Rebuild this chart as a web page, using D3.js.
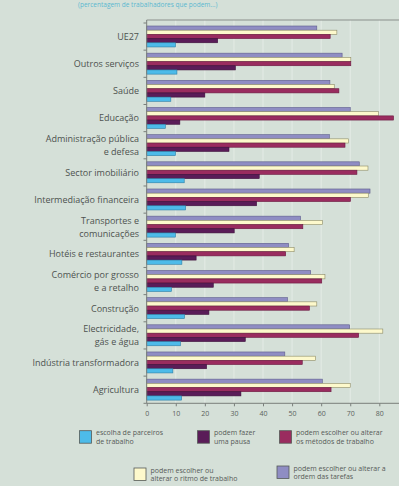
<!DOCTYPE html>
<html><head><meta charset="utf-8">
<script src="https://cdn.jsdelivr.net/npm/d3@7"></script>
<style>
html,body{margin:0;padding:0;background:#d5e0d8;}
svg{display:block;}
text{font-family:"Open Sans",sans-serif;}
</style></head>
<body>
<svg id="c" width="399" height="486"></svg>
<script>
const categories = ["UE27","Outros serviços","Saúde","Educação","Administração pública|e defesa","Sector imobiliário","Intermediação financeira","Transportes e|comunicações","Hotéis e restaurantes","Comércio por grosso|e a retalho","Construção","Electricidade,|gás e água","Indústria transformadora","Agricultura"];
const seriesNames = ["ordem","ritmo","metodos","pausa","parceiros"];
const ordem     = [58.5,67.2,63.0,70.0,62.8,73.1,76.8,52.9,48.8,56.4,48.4,69.8,47.5,60.4];
const ritmo     = [65.4,70.2,64.5,79.7,69.4,76.1,76.2,60.4,50.7,61.3,58.5,81.2,58.1,70.0];
const metodos   = [63.1,70.2,66.1,84.9,68.2,72.3,70.1,53.7,47.8,60.2,56.0,72.9,53.5,63.4];
const pausa     = [24.4,30.5,20.0,11.4,28.3,38.7,37.8,30.1,17.0,22.9,21.4,33.9,20.6,32.4];
const parceiros = [9.9,10.4,8.3,6.4,9.9,12.9,13.4,9.9,12.1,8.5,13.0,11.6,9.0,12.0];
const xTicks = [0,10,20,30,40,50,60,70,80];
const legendLabels = {
  parceiros:["escolha de parceiros","de trabalho"],
  pausa:["podem fazer","uma pausa"],
  metodos:["podem escolher ou alterar","os métodos de trabalho"],
  ritmo:["podem escolher ou","alterar o ritmo de trabalho"],
  ordem:["podem escolher ou alterar a","ordem das tarefas"]
};
const values = {ordem, ritmo, metodos, pausa, parceiros};
const fills = {ordem:"#8f8dc3", ritmo:"#fdf9cc", metodos:"#9a2c5f", pausa:"#5a1c58", parceiros:"#4dbbe9"};
const strokes = {ordem:"#5d5b8c", ritmo:"#8c8a66", metodos:"#6a1a40", pausa:"#3c0e3a", parceiros:"#2c7ea6"};

const svg = d3.select("#c");
const x = d3.scaleLinear().domain([0,90]).range([146.7, 408.4]);
const y = d3.scaleBand().domain(categories).range([23,403.3]).paddingInner(0).paddingOuter(0);
const yi = d3.scaleBand().domain(seriesNames).range([3, y.bandwidth()-3.2]).padding(0);

// title fragment
svg.append("text").attr("x",78).attr("y",7).attr("font-size",6.5).attr("fill","#5bb8d0").text("(percentagem de trabalhadores que podem...)");

// gridlines
svg.append("g").selectAll("line").data(xTicks.filter(d=>d>0).concat([90])).join("line")
  .attr("x1",d=>x(d)).attr("x2",d=>x(d)).attr("y1",20).attr("y2",403.3)
  .attr("stroke","#e4ebe6").attr("stroke-width",1);

// frame top
svg.append("line").attr("x1",146.7).attr("x2",399).attr("y1",20).attr("y2",20).attr("stroke","#8a8f8b").attr("stroke-width",1);

// bars
const g = svg.append("g");
categories.forEach((c,i)=>{
  seriesNames.forEach(s=>{
    g.append("rect")
      .attr("x",x(0)).attr("y",y(c)+yi(s))
      .attr("width",x(values[s][i])-x(0)).attr("height",yi.bandwidth())
      .attr("fill",fills[s]).attr("stroke",strokes[s]).attr("stroke-width",0.6);
  });
});

// y axis
const yAxisG = svg.append("g");
yAxisG.append("line").attr("x1",146.7).attr("x2",146.7).attr("y1",20).attr("y2",403.3).attr("stroke","#7a7f7b");
const bounds = categories.map(c=>y(c)+y.bandwidth());
yAxisG.selectAll("line.t").data([y(categories[0])].concat(bounds)).join("line").attr("class","t")
  .attr("x1",143.5).attr("x2",146.7).attr("y1",d=>d).attr("y2",d=>d).attr("stroke","#7a7f7b");
categories.forEach(c=>{
  const lines = c.split("|");
  const cy = y(c)+y.bandwidth()/2;
  lines.forEach((l,k)=>{
    svg.append("text").attr("x",139).attr("y",cy + (k-(lines.length-1)/2)*13 + 3.3)
      .attr("text-anchor","end").attr("font-size",9).attr("fill","#4d524f").text(l);
  });
});

// x axis
const xAxis = d3.axisBottom(x).tickValues(xTicks).tickSize(3).tickFormat(d3.format("d"));
const xg = svg.append("g").attr("transform","translate(0,403.3)").call(xAxis);
xg.select(".domain").attr("stroke","#7a7f7b").attr("d","M146.7,0H399");
xg.selectAll(".tick line").attr("stroke","#7a7f7b");
xg.selectAll(".tick text").attr("font-size",7).attr("fill","#5a5f5c").attr("font-family","'Open Sans',sans-serif").attr("dy","0.9em");

// legend
const leg = [
  {s:"parceiros", x:79.5, y:430.7},
  {s:"pausa", x:197.5, y:430.7},
  {s:"metodos", x:279.5, y:430.7},
  {s:"ritmo", x:134, y:468},
  {s:"ordem", x:277, y:466}
];
leg.forEach(l=>{
  svg.append("rect").attr("x",l.x).attr("y",l.y).attr("width",12).attr("height",12.5)
    .attr("fill",fills[l.s]).attr("stroke","#555a57").attr("stroke-width",0.8);
  legendLabels[l.s].forEach((t,k)=>{
    svg.append("text").attr("x",l.x+16.5).attr("y",l.y+4.5+k*8.5).attr("font-size",7)
      .attr("fill","#555a57").text(t);
  });
});
</script>
</body></html>
